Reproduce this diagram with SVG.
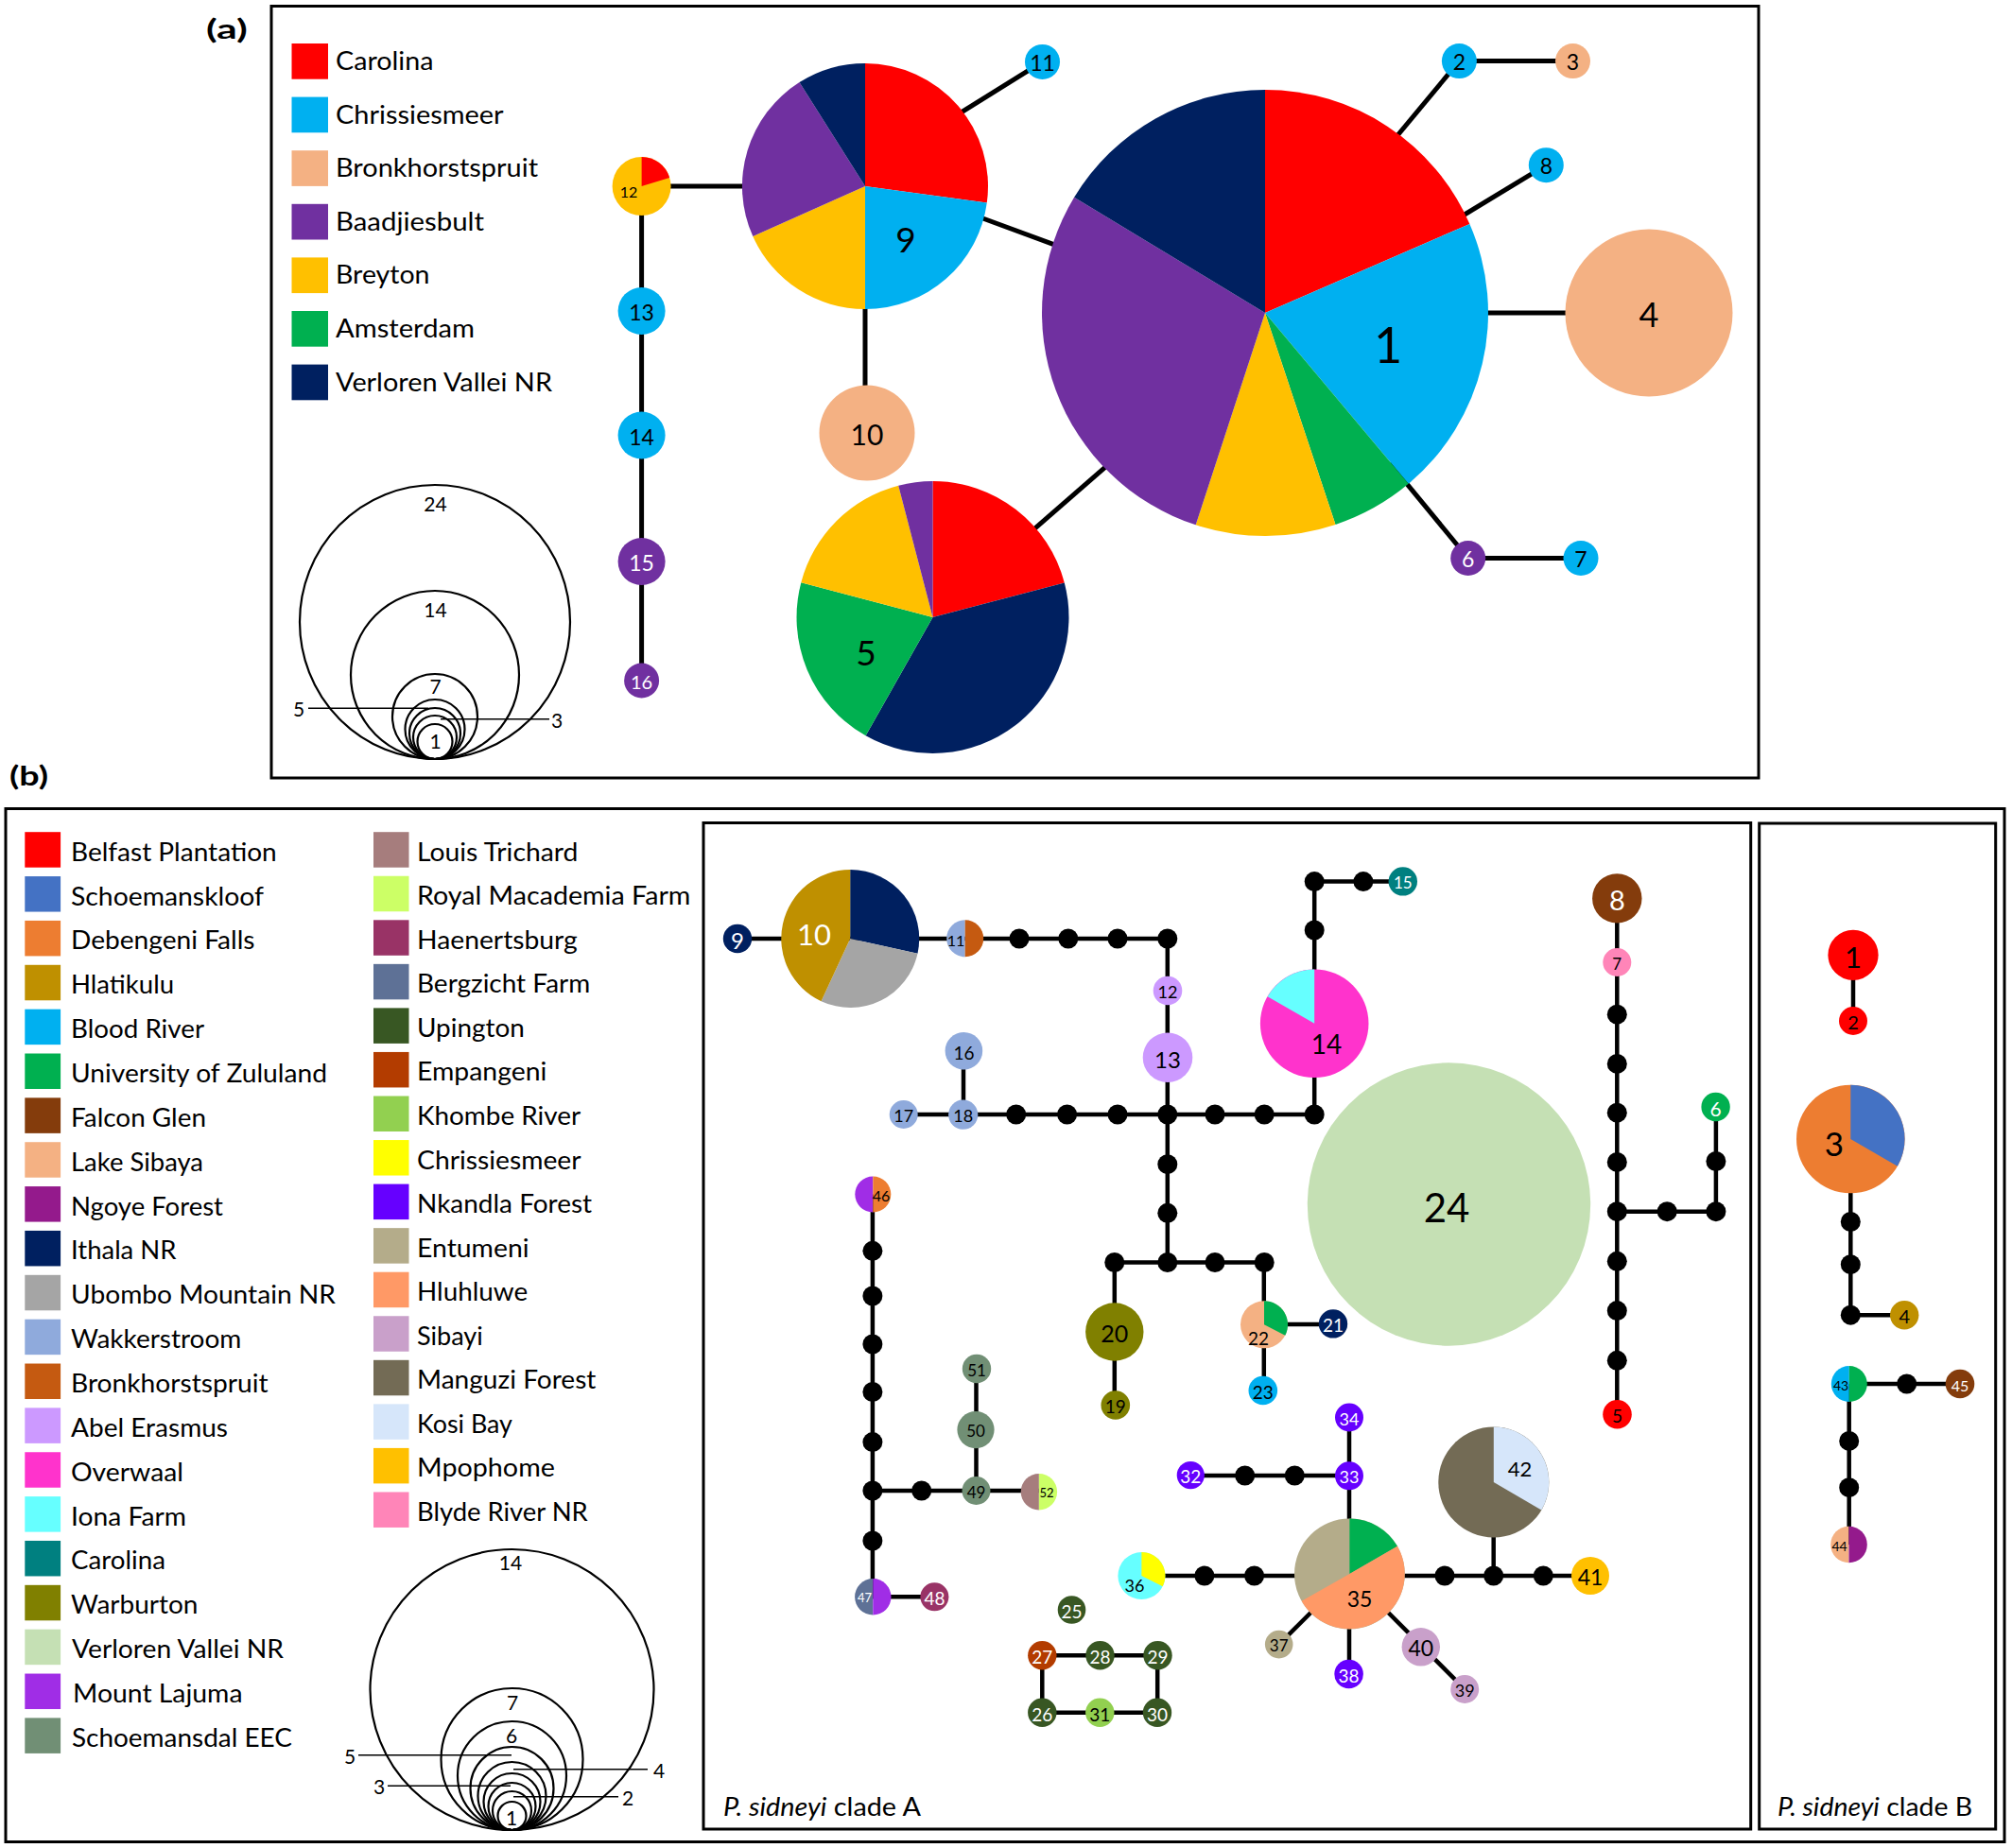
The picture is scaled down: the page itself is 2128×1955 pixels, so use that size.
<svg xmlns="http://www.w3.org/2000/svg" width="2128" height="1955" viewBox="0 0 2128 1955">
<style>
text{font-family:Lato,"Liberation Sans",sans-serif;fill:#000}
.lab{text-anchor:middle;dominant-baseline:central}
.w{fill:#fff}
.lg{font-size:27px}
.box{fill:none;stroke:#000;stroke-width:3}
.ea{stroke:#000;stroke-width:5;fill:none}
.eb{stroke:#000;stroke-width:4.5;fill:none}
.sz{fill:none;stroke:#000;stroke-width:2.2}
.ld{stroke:#000;stroke-width:1.5}
.sl{font-size:21px;text-anchor:middle;dominant-baseline:central}
</style>
<defs>
<circle id="dot" r="10.5" fill="#000"/>
</defs>
<rect width="2128" height="1955" fill="#fff"/>

<!-- ================= PART (a) ================= -->
<text x="218" y="41" font-size="28" font-weight="bold" textLength="43.7" lengthAdjust="spacingAndGlyphs">(a)</text>
<rect class="box" x="287" y="6.5" width="1573" height="816.5"/>

<g id="legend-a">
<rect x="308.5" y="46" width="38.5" height="37.7" fill="#FF0000"/>
<rect x="308.5" y="102.6" width="38.5" height="37.7" fill="#00B0F0"/>
<rect x="308.5" y="159.2" width="38.5" height="37.7" fill="#F4B183"/>
<rect x="308.5" y="215.8" width="38.5" height="37.7" fill="#7030A0"/>
<rect x="308.5" y="272.4" width="38.5" height="37.7" fill="#FFC000"/>
<rect x="308.5" y="329" width="38.5" height="37.7" fill="#00B050"/>
<rect x="308.5" y="385.6" width="38.5" height="37.7" fill="#002060"/>
<text class="lg" x="355" y="74" textLength="103.5" lengthAdjust="spacingAndGlyphs">Carolina</text>
<text class="lg" x="355" y="130.6" textLength="177.6" lengthAdjust="spacingAndGlyphs">Chrissiesmeer</text>
<text class="lg" x="355" y="187.2" textLength="214" lengthAdjust="spacingAndGlyphs">Bronkhorstspruit</text>
<text class="lg" x="355" y="243.8" textLength="157" lengthAdjust="spacingAndGlyphs">Baadjiesbult</text>
<text class="lg" x="355" y="300.4" textLength="99.5" lengthAdjust="spacingAndGlyphs">Breyton</text>
<text class="lg" x="355" y="357" textLength="147" lengthAdjust="spacingAndGlyphs">Amsterdam</text>
<text class="lg" x="355" y="413.6" textLength="229" lengthAdjust="spacingAndGlyphs">Verloren Vallei NR</text>
</g>

<g id="size-legend-a">
<ellipse class="sz" cx="460" cy="658" rx="143" ry="145"/>
<circle class="sz" cx="460" cy="714" r="89"/>
<circle class="sz" cx="460" cy="758" r="45"/>
<circle class="sz" cx="460" cy="771.5" r="31.5"/>
<circle class="sz" cx="460" cy="776" r="27"/>
<circle class="sz" cx="460" cy="780" r="23"/>
<circle class="sz" cx="460" cy="784.5" r="18.5"/>
<line class="ld" x1="326" y1="749.3" x2="453" y2="749.3"/>
<line class="ld" x1="466" y1="760.7" x2="581" y2="760.7"/>
<text class="sl" x="460.5" y="532">24</text>
<text class="sl" x="460.5" y="644">14</text>
<text class="sl" x="460.5" y="725">7</text>
<text class="sl" x="460.5" y="783">1</text>
<text class="sl" x="316" y="749">5</text>
<text class="sl" x="589" y="761">3</text>
</g>

<g id="edges-a">
<line class="ea" x1="678.6" y1="197" x2="800" y2="197"/>
<line class="ea" x1="678.6" y1="197" x2="678.6" y2="720"/>
<line class="ea" x1="915" y1="320" x2="915" y2="410"/>
<line class="ea" x1="1010" y1="123" x2="1102.5" y2="65.4"/>
<line class="ea" x1="1030" y1="227.5" x2="1130" y2="264.3"/>
<line class="ea" x1="1085" y1="567.4" x2="1180" y2="484.6"/>
<line class="ea" x1="1460" y1="165" x2="1543.4" y2="64.6"/>
<line class="ea" x1="1543.4" y1="64.6" x2="1663.5" y2="64.6"/>
<line class="ea" x1="1530" y1="238.5" x2="1635.3" y2="174.7"/>
<line class="ea" x1="1560" y1="331" x2="1744" y2="331"/>
<line class="ea" x1="1470" y1="490" x2="1552.7" y2="590.5"/>
<line class="ea" x1="1552.7" y1="590.5" x2="1672" y2="590.5"/>
</g>

<g id="a-h1">
<path fill="#FF0000" d="M1338,331 L1338,95 A236,236 0 0,1 1554.4,236.9 Z"/>
<path fill="#00B0F0" d="M1338,331 L1554.4,236.9 A236,236 0 0,1 1489.7,511.8 Z"/>
<path fill="#00B050" d="M1338,331 L1489.7,511.8 A236,236 0 0,1 1412.5,554.9 Z"/>
<path fill="#FFC000" d="M1338,331 L1412.5,554.9 A236,236 0 0,1 1264.7,555.3 Z"/>
<path fill="#7030A0" d="M1338,331 L1264.7,555.3 A236,236 0 0,1 1136.1,208.8 Z"/>
<path fill="#002060" d="M1338,331 L1136.1,208.8 A236,236 0 0,1 1338,95 Z"/>
<text class="lab" x="1468" y="364" font-size="52">1</text>
</g>
<g id="a-h9">
<path fill="#FF0000" d="M915,197 L915,67 A130,130 0 0,1 1043.8,214.6 Z"/>
<path fill="#00B0F0" d="M915,197 L1043.8,214.6 A130,130 0 0,1 915,327 Z"/>
<path fill="#FFC000" d="M915,197 L915,327 A130,130 0 0,1 796.3,250.1 Z"/>
<path fill="#7030A0" d="M915,197 L796.3,250.1 A130,130 0 0,1 845.5,87.1 Z"/>
<path fill="#002060" d="M915,197 L845.5,87.1 A130,130 0 0,1 915,67 Z"/>
<text class="lab" x="958" y="252" font-size="37">9</text>
</g>
<g id="a-h5">
<path fill="#FF0000" d="M986.5,653 L986.5,509 A144,144 0 0,1 1125.8,616.5 Z"/>
<path fill="#002060" d="M986.5,653 L1125.8,616.5 A144,144 0 0,1 915.6,778.3 Z"/>
<path fill="#00B050" d="M986.5,653 L915.6,778.3 A144,144 0 0,1 847.3,616.2 Z"/>
<path fill="#FFC000" d="M986.5,653 L847.3,616.2 A144,144 0 0,1 950.2,513.7 Z"/>
<path fill="#7030A0" d="M986.5,653 L950.2,513.7 A144,144 0 0,1 986.5,509 Z"/>
<text class="lab" x="916" y="689" font-size="37">5</text>
</g>
<g id="a-h4"><circle cx="1744" cy="331" r="88.5" fill="#F4B183"/><text class="lab" x="1744" y="332" font-size="36">4</text></g>
<g id="a-h10"><circle cx="917" cy="458" r="50.5" fill="#F4B183"/><text class="lab" x="917" y="459" font-size="30">10</text></g>
<g id="a-h12">
<circle cx="678.6" cy="197" r="31" fill="#FFC000"/>
<path fill="#FF0000" d="M678.6,197 L678.6,166 A31,31 0 0,1 708.2,187.9 Z"/>
<text class="lab" x="665" y="202" font-size="16">12</text>
</g>
<g id="a-h11"><circle cx="1102.5" cy="65.4" r="18.5" fill="#00B0F0"/><text class="lab" x="1102.5" y="66" font-size="23">11</text></g>
<g id="a-h2"><circle cx="1543.4" cy="64.6" r="18.5" fill="#00B0F0"/><text class="lab" x="1543.4" y="65" font-size="23">2</text></g>
<g id="a-h3"><circle cx="1663.5" cy="64.6" r="18.5" fill="#F4B183"/><text class="lab" x="1663.5" y="65" font-size="23">3</text></g>
<g id="a-h8"><circle cx="1635.3" cy="174.7" r="18.5" fill="#00B0F0"/><text class="lab" x="1635.3" y="175" font-size="23">8</text></g>
<g id="a-h6"><circle cx="1552.7" cy="590.5" r="18.5" fill="#7030A0"/><text class="lab w" x="1552.7" y="591" font-size="23">6</text></g>
<g id="a-h7"><circle cx="1672" cy="590.5" r="18.5" fill="#00B0F0"/><text class="lab" x="1672" y="591" font-size="23">7</text></g>
<g id="a-h13"><circle cx="678.6" cy="329" r="25" fill="#00B0F0"/><text class="lab" x="678.6" y="330" font-size="23">13</text></g>
<g id="a-h14"><circle cx="678.6" cy="460.5" r="25" fill="#00B0F0"/><text class="lab" x="678.6" y="461.5" font-size="23">14</text></g>
<g id="a-h15"><circle cx="678.6" cy="594" r="25" fill="#7030A0"/><text class="lab w" x="678.6" y="595" font-size="23">15</text></g>
<g id="a-h16"><circle cx="678.6" cy="720" r="18.5" fill="#7030A0"/><text class="lab w" x="678.6" y="721" font-size="20">16</text></g>

<!-- ================= PART (b) ================= -->
<text x="10" y="831" font-size="28" font-weight="bold" textLength="41" lengthAdjust="spacingAndGlyphs">(b)</text>
<rect class="box" x="6" y="855.5" width="2114" height="1093"/>
<rect class="box" x="744" y="870.5" width="1107.7" height="1064.5"/>
<rect class="box" x="1860.7" y="871" width="250" height="1064"/>

<g id="legend-b">
<rect x="26.3" y="880.2" width="37.8" height="37.5" fill="#FF0000"/>
<rect x="26.3" y="927.06" width="37.8" height="37.5" fill="#4472C4"/>
<rect x="26.3" y="973.92" width="37.8" height="37.5" fill="#ED7D31"/>
<rect x="26.3" y="1020.78" width="37.8" height="37.5" fill="#BF9000"/>
<rect x="26.3" y="1067.64" width="37.8" height="37.5" fill="#00B0F0"/>
<rect x="26.3" y="1114.5" width="37.8" height="37.5" fill="#00B050"/>
<rect x="26.3" y="1161.36" width="37.8" height="37.5" fill="#843C0C"/>
<rect x="26.3" y="1208.22" width="37.8" height="37.5" fill="#F4B183"/>
<rect x="26.3" y="1255.08" width="37.8" height="37.5" fill="#941A8C"/>
<rect x="26.3" y="1301.94" width="37.8" height="37.5" fill="#002060"/>
<rect x="26.3" y="1348.8" width="37.8" height="37.5" fill="#A5A5A5"/>
<rect x="26.3" y="1395.66" width="37.8" height="37.5" fill="#8FAADC"/>
<rect x="26.3" y="1442.52" width="37.8" height="37.5" fill="#C55A11"/>
<rect x="26.3" y="1489.38" width="37.8" height="37.5" fill="#CC99FF"/>
<rect x="26.3" y="1536.24" width="37.8" height="37.5" fill="#FF33CC"/>
<rect x="26.3" y="1583.1" width="37.8" height="37.5" fill="#66FFFF"/>
<rect x="26.3" y="1629.96" width="37.8" height="37.5" fill="#008080"/>
<rect x="26.3" y="1676.82" width="37.8" height="37.5" fill="#808000"/>
<rect x="26.3" y="1723.68" width="37.8" height="37.5" fill="#C5E0B4"/>
<rect x="26.3" y="1770.54" width="37.8" height="37.5" fill="#A02DE6"/>
<rect x="26.3" y="1817.4" width="37.8" height="37.5" fill="#718F75"/>
<text class="lg" x="75" y="910.7" textLength="217.7" lengthAdjust="spacingAndGlyphs">Belfast Plantation</text>
<text class="lg" x="75" y="957.56" textLength="204" lengthAdjust="spacingAndGlyphs">Schoemanskloof</text>
<text class="lg" x="75" y="1004.42" textLength="194.5" lengthAdjust="spacingAndGlyphs">Debengeni Falls</text>
<text class="lg" x="75" y="1051.28" textLength="109" lengthAdjust="spacingAndGlyphs">Hlatikulu</text>
<text class="lg" x="75" y="1098.14" textLength="141" lengthAdjust="spacingAndGlyphs">Blood River</text>
<text class="lg" x="75" y="1145" textLength="271" lengthAdjust="spacingAndGlyphs">University of Zululand</text>
<text class="lg" x="75" y="1191.86" textLength="143" lengthAdjust="spacingAndGlyphs">Falcon Glen</text>
<text class="lg" x="75" y="1238.72" textLength="140" lengthAdjust="spacingAndGlyphs">Lake Sibaya</text>
<text class="lg" x="75" y="1285.58" textLength="161" lengthAdjust="spacingAndGlyphs">Ngoye Forest</text>
<text class="lg" x="75" y="1332.44" textLength="111.5" lengthAdjust="spacingAndGlyphs">Ithala NR</text>
<text class="lg" x="75" y="1379.3" textLength="280" lengthAdjust="spacingAndGlyphs">Ubombo Mountain NR</text>
<text class="lg" x="75" y="1426.16" textLength="180.4" lengthAdjust="spacingAndGlyphs">Wakkerstroom</text>
<text class="lg" x="75" y="1473.02" textLength="208.6" lengthAdjust="spacingAndGlyphs">Bronkhorstspruit</text>
<text class="lg" x="75" y="1519.88" textLength="166" lengthAdjust="spacingAndGlyphs">Abel Erasmus</text>
<text class="lg" x="75" y="1566.74" textLength="119" lengthAdjust="spacingAndGlyphs">Overwaal</text>
<text class="lg" x="75" y="1613.6" textLength="122" lengthAdjust="spacingAndGlyphs">Iona Farm</text>
<text class="lg" x="75" y="1660.46" textLength="100" lengthAdjust="spacingAndGlyphs">Carolina</text>
<text class="lg" x="75" y="1707.32" textLength="134.5" lengthAdjust="spacingAndGlyphs">Warburton</text>
<text class="lg" x="76" y="1754.18" textLength="224" lengthAdjust="spacingAndGlyphs">Verloren Vallei NR</text>
<text class="lg" x="77" y="1801.04" textLength="179.5" lengthAdjust="spacingAndGlyphs">Mount Lajuma</text>
<text class="lg" x="76" y="1847.9" textLength="233" lengthAdjust="spacingAndGlyphs">Schoemansdal EEC</text>

<rect x="395" y="880.2" width="37.5" height="37.5" fill="#A67D7D"/>
<rect x="395" y="926.75" width="37.5" height="37.5" fill="#CCFF66"/>
<rect x="395" y="973.3" width="37.5" height="37.5" fill="#993366"/>
<rect x="395" y="1019.85" width="37.5" height="37.5" fill="#5E7196"/>
<rect x="395" y="1066.4" width="37.5" height="37.5" fill="#385723"/>
<rect x="395" y="1112.95" width="37.5" height="37.5" fill="#B33C00"/>
<rect x="395" y="1159.5" width="37.5" height="37.5" fill="#92D050"/>
<rect x="395" y="1206.05" width="37.5" height="37.5" fill="#FFFF00"/>
<rect x="395" y="1252.6" width="37.5" height="37.5" fill="#6600FF"/>
<rect x="395" y="1299.15" width="37.5" height="37.5" fill="#B4AC8A"/>
<rect x="395" y="1345.7" width="37.5" height="37.5" fill="#FF9966"/>
<rect x="395" y="1392.25" width="37.5" height="37.5" fill="#C9A0CA"/>
<rect x="395" y="1438.8" width="37.5" height="37.5" fill="#736B55"/>
<rect x="395" y="1485.35" width="37.5" height="37.5" fill="#D6E6FA"/>
<rect x="395" y="1531.9" width="37.5" height="37.5" fill="#FFC000"/>
<rect x="395" y="1578.45" width="37.5" height="37.5" fill="#FF85B8"/>
<text class="lg" x="441" y="910.7" textLength="170.3" lengthAdjust="spacingAndGlyphs">Louis Trichard</text>
<text class="lg" x="441" y="957.25" textLength="289.4" lengthAdjust="spacingAndGlyphs">Royal Macademia Farm</text>
<text class="lg" x="441" y="1003.8" textLength="169.8" lengthAdjust="spacingAndGlyphs">Haenertsburg</text>
<text class="lg" x="441" y="1050.35" textLength="183.2" lengthAdjust="spacingAndGlyphs">Bergzicht Farm</text>
<text class="lg" x="441" y="1096.9" textLength="113.8" lengthAdjust="spacingAndGlyphs">Upington</text>
<text class="lg" x="441" y="1143.45" textLength="137.3" lengthAdjust="spacingAndGlyphs">Empangeni</text>
<text class="lg" x="441" y="1190" textLength="173.1" lengthAdjust="spacingAndGlyphs">Khombe River</text>
<text class="lg" x="441" y="1236.55" textLength="173.6" lengthAdjust="spacingAndGlyphs">Chrissiesmeer</text>
<text class="lg" x="441" y="1283.1" textLength="185.1" lengthAdjust="spacingAndGlyphs">Nkandla Forest</text>
<text class="lg" x="441" y="1329.65" textLength="118.6" lengthAdjust="spacingAndGlyphs">Entumeni</text>
<text class="lg" x="441" y="1376.2" textLength="117.2" lengthAdjust="spacingAndGlyphs">Hluhluwe</text>
<text class="lg" x="441" y="1422.75" textLength="69.8" lengthAdjust="spacingAndGlyphs">Sibayi</text>
<text class="lg" x="441" y="1469.3" textLength="189.4" lengthAdjust="spacingAndGlyphs">Manguzi Forest</text>
<text class="lg" x="441" y="1515.85" textLength="100.9" lengthAdjust="spacingAndGlyphs">Kosi Bay</text>
<text class="lg" x="441" y="1562.4" textLength="145.9" lengthAdjust="spacingAndGlyphs">Mpophome</text>
<text class="lg" x="441" y="1608.95" textLength="180.8" lengthAdjust="spacingAndGlyphs">Blyde River NR</text>
</g>

<g id="size-legend-b">
<ellipse class="sz" cx="541.5" cy="1787.5" rx="150" ry="148.5"/>
<circle class="sz" cx="541.5" cy="1861" r="75"/>
<circle class="sz" cx="541.5" cy="1878.5" r="57.5"/>
<circle class="sz" cx="541.5" cy="1892" r="44"/>
<circle class="sz" cx="541.5" cy="1900" r="36"/>
<circle class="sz" cx="541.5" cy="1906" r="30"/>
<circle class="sz" cx="541.5" cy="1911" r="25"/>
<circle class="sz" cx="541.5" cy="1915.5" r="20.5"/>
<circle class="sz" cx="541.5" cy="1921" r="15"/>
<line class="ld" x1="379" y1="1856.7" x2="541" y2="1856.7"/>
<line class="ld" x1="543" y1="1871.7" x2="685" y2="1871.7"/>
<line class="ld" x1="410" y1="1889.3" x2="540" y2="1889.3"/>
<line class="ld" x1="543" y1="1900.7" x2="654" y2="1900.7"/>
<text class="sl" x="540" y="1652">14</text>
<text class="sl" x="542" y="1800">7</text>
<text class="sl" x="541" y="1835">6</text>
<text class="sl" x="541" y="1922">1</text>
<text class="sl" x="370" y="1857">5</text>
<text class="sl" x="697" y="1872">4</text>
<text class="sl" x="401" y="1889">3</text>
<text class="sl" x="664" y="1901">2</text>
</g>

<g id="edges-b">
<line class="eb" x1="780" y1="993" x2="1234.8" y2="993"/>
<line class="eb" x1="1234.8" y1="993" x2="1234.8" y2="1335.5"/>
<line class="eb" x1="955.7" y1="1179" x2="1390.2" y2="1179"/>
<line class="eb" x1="1019" y1="1111.7" x2="1019" y2="1179"/>
<line class="eb" x1="1390.2" y1="932.6" x2="1390.2" y2="1179"/>
<line class="eb" x1="1390.2" y1="932.6" x2="1483.8" y2="932.6"/>
<line class="eb" x1="1178.8" y1="1335.5" x2="1337.2" y2="1335.5"/>
<line class="eb" x1="1178.8" y1="1335.5" x2="1178.8" y2="1486.5"/>
<line class="eb" x1="1336.8" y1="1335.5" x2="1336.8" y2="1471"/>
<line class="eb" x1="1337" y1="1401" x2="1410" y2="1401"/>
<line class="eb" x1="922.9" y1="1263.5" x2="922.9" y2="1689.3"/>
<line class="eb" x1="922.9" y1="1689.3" x2="988.4" y2="1689.3"/>
<line class="eb" x1="922.9" y1="1577" x2="1098.9" y2="1577"/>
<line class="eb" x1="1032.5" y1="1448" x2="1032.5" y2="1577"/>
<line class="eb" x1="1259.3" y1="1561" x2="1427" y2="1561"/>
<line class="eb" x1="1427" y1="1499.5" x2="1427" y2="1771"/>
<line class="eb" x1="1207.4" y1="1667" x2="1682" y2="1667"/>
<line class="eb" x1="1579.7" y1="1568" x2="1579.7" y2="1667"/>
<line class="eb" x1="1352.7" y1="1739.6" x2="1427.4" y2="1665"/>
<line class="eb" x1="1427.4" y1="1665" x2="1549.2" y2="1787"/>
<polyline class="eb" points="1102.3,1751.3 1224.2,1751.3 1224.2,1811.8 1102.3,1811.8 1102.3,1751.3"/>
<line class="eb" x1="1710.3" y1="950.4" x2="1710.3" y2="1496.2"/>
<polyline class="eb" points="1710.3,1281.7 1814.9,1281.7 1814.9,1171"/>
<line class="eb" x1="1960" y1="1010.3" x2="1960" y2="1080"/>
<polyline class="eb" points="1957.3,1205 1957.3,1391.2 2014.2,1391.2"/>
<line class="eb" x1="1955.8" y1="1464" x2="2073" y2="1464"/>
<line class="eb" x1="1955.7" y1="1464" x2="1955.7" y2="1634"/>
</g>

<g id="median-vectors">
<use href="#dot" x="1078" y="993"/><use href="#dot" x="1129.8" y="993"/><use href="#dot" x="1182" y="993"/><use href="#dot" x="1234.8" y="993"/>
<use href="#dot" x="1234.8" y="1231.7"/><use href="#dot" x="1234.8" y="1283.3"/>
<use href="#dot" x="1074.7" y="1179"/><use href="#dot" x="1128.6" y="1179"/><use href="#dot" x="1182" y="1179"/><use href="#dot" x="1234.8" y="1179"/><use href="#dot" x="1285" y="1179"/><use href="#dot" x="1337.2" y="1179"/><use href="#dot" x="1390.2" y="1179"/>
<use href="#dot" x="1390.2" y="984"/><use href="#dot" x="1390.2" y="932.6"/><use href="#dot" x="1441.9" y="932.6"/>
<use href="#dot" x="1178.8" y="1335.5"/><use href="#dot" x="1234.8" y="1335.5"/><use href="#dot" x="1285" y="1335.5"/><use href="#dot" x="1337.2" y="1335.5"/>
<use href="#dot" x="922.9" y="1323.3"/><use href="#dot" x="922.9" y="1371"/><use href="#dot" x="922.9" y="1422"/><use href="#dot" x="922.9" y="1472.5"/><use href="#dot" x="922.9" y="1525.6"/><use href="#dot" x="922.9" y="1577"/><use href="#dot" x="922.9" y="1630"/>
<use href="#dot" x="974.7" y="1577"/>
<use href="#dot" x="1316.7" y="1561"/><use href="#dot" x="1369.3" y="1561"/>
<use href="#dot" x="1273.9" y="1667"/><use href="#dot" x="1326.6" y="1667"/>
<use href="#dot" x="1528" y="1667"/><use href="#dot" x="1579.7" y="1667"/><use href="#dot" x="1632.3" y="1667"/>
<use href="#dot" x="1710.3" y="1073.2"/><use href="#dot" x="1710.3" y="1125.4"/><use href="#dot" x="1710.3" y="1177.2"/><use href="#dot" x="1710.3" y="1229.4"/><use href="#dot" x="1710.3" y="1281.7"/><use href="#dot" x="1710.3" y="1334.3"/><use href="#dot" x="1710.3" y="1386.6"/><use href="#dot" x="1710.3" y="1439.3"/>
<use href="#dot" x="1763.2" y="1281.7"/><use href="#dot" x="1814.9" y="1281.7"/><use href="#dot" x="1814.9" y="1228.5"/>
<use href="#dot" x="1957.3" y="1292.5"/><use href="#dot" x="1957.3" y="1337.7"/><use href="#dot" x="1957.3" y="1391.2"/>
<use href="#dot" x="2016.7" y="1464"/>
<use href="#dot" x="1955.7" y="1524.4"/><use href="#dot" x="1955.7" y="1573.7"/>
</g>

<!-- clade A nodes -->
<g id="b-h9"><circle cx="780" cy="993" r="15.2" fill="#002060"/><text class="lab w" x="780" y="994" font-size="24">9</text></g>
<g id="b-h10">
<path fill="#002060" d="M899.2,993 L899.2,920 A73,73 0 0,1 970.5,1008.8 Z"/>
<path fill="#A5A5A5" d="M899.2,993 L970.5,1008.8 A73,73 0 0,1 868.5,1059.2 Z"/>
<path fill="#BF9000" d="M899.2,993 L868.5,1059.2 A73,73 0 0,1 899.2,920 Z"/>
<text class="lab w" x="861" y="988" font-size="31">10</text>
</g>
<g id="b-h11">
<path fill="#8FAADC" d="M1020.7,973.3 A19.5,19.5 0 0,0 1020.7,1012.3 Z"/>
<path fill="#C55A11" d="M1020.7,973.3 A19.5,19.5 0 0,1 1020.7,1012.3 Z"/>
<text class="lab" x="1011" y="994" font-size="16">11</text>
</g>
<g id="b-h12"><circle cx="1235" cy="1048" r="15.3" fill="#CC99FF"/><text class="lab" x="1235" y="1049" font-size="18">12</text></g>
<g id="b-h13"><circle cx="1235" cy="1118.7" r="26.3" fill="#CC99FF"/><text class="lab" x="1235" y="1120" font-size="24">13</text></g>
<g id="b-h14">
<circle cx="1390.2" cy="1082.8" r="57.3" fill="#FF33CC"/>
<path fill="#66FFFF" d="M1390.2,1082.8 L1340.6,1054.15 A57.3,57.3 0 0,1 1390.2,1025.5 Z"/>
<text class="lab" x="1403" y="1104" font-size="28">14</text>
</g>
<g id="b-h15"><circle cx="1483.8" cy="932.4" r="15.2" fill="#008080"/><text class="lab w" x="1483.8" y="933.5" font-size="17">15</text></g>
<g id="b-h16"><circle cx="1019.4" cy="1111.7" r="19.8" fill="#8FAADC"/><text class="lab" x="1019.4" y="1113" font-size="19">16</text></g>
<g id="b-h17"><circle cx="955.7" cy="1179" r="15" fill="#8FAADC"/><text class="lab" x="955.7" y="1180" font-size="18">17</text></g>
<g id="b-h18"><circle cx="1018.7" cy="1179.2" r="15.6" fill="#8FAADC"/><text class="lab" x="1018.7" y="1180" font-size="18">18</text></g>
<g id="b-h19"><circle cx="1179.8" cy="1486.5" r="15.3" fill="#808000"/><text class="lab" x="1179.8" y="1487.5" font-size="19">19</text></g>
<g id="b-h20"><circle cx="1178.8" cy="1409" r="30.7" fill="#808000"/><text class="lab" x="1178.8" y="1410" font-size="25">20</text></g>
<g id="b-h21"><circle cx="1410" cy="1400.4" r="15.2" fill="#002060"/><text class="lab w" x="1410" y="1401.5" font-size="19">21</text></g>
<g id="b-h22">
<circle cx="1337" cy="1401.3" r="25" fill="#F4B183"/>
<path fill="#00B050" d="M1337,1401.3 L1337,1376.3 A25,25 0 0,1 1359.3,1412.65 Z"/>
<text class="lab" x="1331" y="1415" font-size="19">22</text>
</g>
<g id="b-h23"><circle cx="1335.8" cy="1471" r="15.3" fill="#00B0F0"/><text class="lab" x="1335.8" y="1472" font-size="19">23</text></g>
<g id="b-h24"><circle cx="1532.5" cy="1274" r="149.7" fill="#C5E0B4"/><text class="lab" x="1530" y="1277" font-size="42">24</text></g>
<g id="b-h25"><circle cx="1133.5" cy="1703" r="14.8" fill="#385723"/><text class="lab w" x="1133.5" y="1704" font-size="19">25</text></g>
<g id="b-h26"><circle cx="1102.3" cy="1811.8" r="15.2" fill="#385723"/><text class="lab w" x="1102.3" y="1813" font-size="19">26</text></g>
<g id="b-h27"><circle cx="1102.3" cy="1751.3" r="15.2" fill="#B33C00"/><text class="lab w" x="1102.3" y="1752.5" font-size="19">27</text></g>
<g id="b-h28"><circle cx="1163.5" cy="1751.3" r="15.2" fill="#385723"/><text class="lab w" x="1163.5" y="1752.5" font-size="19">28</text></g>
<g id="b-h29"><circle cx="1224.5" cy="1751.3" r="15.2" fill="#385723"/><text class="lab w" x="1224.5" y="1752.5" font-size="19">29</text></g>
<g id="b-h30"><circle cx="1224" cy="1811.8" r="15.2" fill="#385723"/><text class="lab w" x="1224" y="1813" font-size="19">30</text></g>
<g id="b-h31"><circle cx="1163.3" cy="1811.8" r="15.2" fill="#92D050"/><text class="lab" x="1163.3" y="1813" font-size="19">31</text></g>
<g id="b-h32"><circle cx="1259.3" cy="1560.6" r="14.6" fill="#6600FF"/><text class="lab w" x="1259.3" y="1561.6" font-size="19">32</text></g>
<g id="b-h33"><circle cx="1427" cy="1561.3" r="15" fill="#6600FF"/><text class="lab w" x="1427" y="1562.3" font-size="18">33</text></g>
<g id="b-h34"><circle cx="1427" cy="1499.5" r="15" fill="#6600FF"/><text class="lab w" x="1427" y="1500.5" font-size="18">34</text></g>
<g id="b-h35">
<circle cx="1427.4" cy="1665" r="58.4" fill="#B4AC8A"/>
<path fill="#00B050" d="M1427.4,1665 L1427.4,1606.6 A58.4,58.4 0 0,1 1478,1635.8 Z"/>
<path fill="#FF9966" d="M1427.4,1665 L1478,1635.8 A58.4,58.4 0 1,1 1376.6,1693.8 Z"/>
<text class="lab" x="1438" y="1691" font-size="23">35</text>
</g>
<g id="b-h36">
<circle cx="1207.4" cy="1667" r="25" fill="#66FFFF"/>
<path fill="#FFFF00" d="M1207.4,1667 L1207.4,1642 A25,25 0 0,1 1229.7,1678.35 Z"/>
<text class="lab" x="1200" y="1677" font-size="18">36</text>
</g>
<g id="b-h37"><circle cx="1352.7" cy="1739.6" r="14.8" fill="#B4AC8A"/><text class="lab" x="1352.7" y="1740.6" font-size="17">37</text></g>
<g id="b-h38"><circle cx="1426.6" cy="1771" r="15.3" fill="#6600FF"/><text class="lab w" x="1426.6" y="1772" font-size="19">38</text></g>
<g id="b-h39"><circle cx="1549.2" cy="1787" r="15" fill="#C9A0CA"/><text class="lab" x="1549.2" y="1788" font-size="18">39</text></g>
<g id="b-h40"><circle cx="1502.8" cy="1742.3" r="20.2" fill="#C9A0CA"/><text class="lab" x="1502.8" y="1743.3" font-size="23">40</text></g>
<g id="b-h41"><circle cx="1682" cy="1667" r="20" fill="#FFC000"/><text class="lab" x="1682" y="1668" font-size="23">41</text></g>
<g id="b-h42">
<circle cx="1579.8" cy="1568" r="58.5" fill="#736B55"/>
<path fill="#D6E6FA" d="M1579.8,1568 L1579.8,1509.5 A58.5,58.5 0 0,1 1630.3,1597.5 Z"/>
<text class="lab" x="1607.5" y="1553" font-size="22">42</text>
</g>
<g id="b-h46">
<path fill="#A02DE6" d="M923.3,1244.5 A19,19 0 0,0 923.3,1282.5 Z"/>
<path fill="#ED7D31" d="M923.3,1244.5 A19,19 0 0,1 923.3,1282.5 Z"/>
<text class="lab" x="932" y="1264.5" font-size="16">46</text>
</g>
<g id="b-h47">
<path fill="#5E7196" d="M923.3,1670.1 A19.2,19.2 0 0,0 923.3,1708.5 Z"/>
<path fill="#A02DE6" d="M923.3,1670.1 A19.2,19.2 0 0,1 923.3,1708.5 Z"/>
<text class="lab w" x="914.5" y="1690" font-size="13">47</text>
</g>
<g id="b-h48"><circle cx="988.4" cy="1689.3" r="15" fill="#993366"/><text class="lab w" x="988.4" y="1690.3" font-size="19">48</text></g>
<g id="b-h49"><circle cx="1032.5" cy="1577" r="15" fill="#718F75"/><text class="lab" x="1032.5" y="1578" font-size="17">49</text></g>
<g id="b-h50"><circle cx="1032" cy="1512.6" r="19.6" fill="#718F75"/><text class="lab" x="1032" y="1513.6" font-size="17">50</text></g>
<g id="b-h51"><circle cx="1033" cy="1448" r="15.2" fill="#718F75"/><text class="lab" x="1033" y="1449" font-size="17">51</text></g>
<g id="b-h52">
<path fill="#A67D7D" d="M1098.9,1559 A19.2,19.2 0 0,0 1098.9,1597.4 Z"/>
<path fill="#CCFF66" d="M1098.9,1559 A19.2,19.2 0 0,1 1098.9,1597.4 Z"/>
<text class="lab" x="1107" y="1578.5" font-size="13">52</text>
</g>
<g id="b-h5"><circle cx="1710.5" cy="1496.2" r="15.3" fill="#FF0000"/><text class="lab" x="1710.5" y="1497.2" font-size="19">5</text></g>
<g id="b-h6"><circle cx="1814.6" cy="1171" r="15.2" fill="#00B050"/><text class="lab w" x="1814.6" y="1172" font-size="21">6</text></g>
<g id="b-h7"><circle cx="1710.3" cy="1018" r="15" fill="#FF85B8"/><text class="lab" x="1710.3" y="1019" font-size="17">7</text></g>
<g id="b-h8"><circle cx="1710.3" cy="950.4" r="26.2" fill="#843C0C"/><text class="lab w" x="1710.3" y="951.5" font-size="29">8</text></g>

<!-- clade B nodes -->
<g id="c-h1"><circle cx="1960" cy="1010.3" r="26.6" fill="#FF0000"/><text class="lab" x="1960" y="1011.5" font-size="31">1</text></g>
<g id="c-h2"><circle cx="1960" cy="1080" r="15" fill="#FF0000"/><text class="lab" x="1960" y="1081" font-size="20">2</text></g>
<g id="c-h3">
<circle cx="1957.3" cy="1205" r="57.3" fill="#ED7D31"/>
<path fill="#4472C4" d="M1957.3,1205 L1957.3,1147.7 A57.3,57.3 0 0,1 2006.9,1233.65 Z"/>
<text class="lab" x="1940" y="1209" font-size="35">3</text>
</g>
<g id="c-h4"><circle cx="2014.2" cy="1391.2" r="15.2" fill="#BF9000"/><text class="lab" x="2014.2" y="1392.2" font-size="20">4</text></g>
<g id="c-h43">
<path fill="#00B0F0" d="M1955.8,1445 A19,19 0 0,0 1955.8,1483 Z"/>
<path fill="#00B050" d="M1955.8,1445 A19,19 0 0,1 1955.8,1483 Z"/>
<text class="lab" x="1947" y="1465" font-size="14">43</text>
</g>
<g id="c-h44">
<path fill="#F4B183" d="M1955.5,1614.7 A19.3,19.3 0 0,0 1955.5,1653.3 Z"/>
<path fill="#941A8C" d="M1955.5,1614.7 A19.3,19.3 0 0,1 1955.5,1653.3 Z"/>
<text class="lab" x="1945.5" y="1635" font-size="14">44</text>
</g>
<g id="c-h45"><circle cx="2073" cy="1464" r="15.3" fill="#843C0C"/><text class="lab w" x="2073" y="1465" font-size="16">45</text></g>

<text x="765" y="1921" font-size="27" textLength="209" lengthAdjust="spacingAndGlyphs"><tspan font-style="italic">P. sidneyi</tspan> clade A</text>
<text x="1880" y="1921" font-size="27" textLength="206" lengthAdjust="spacingAndGlyphs"><tspan font-style="italic">P. sidneyi</tspan> clade B</text>
</svg>
